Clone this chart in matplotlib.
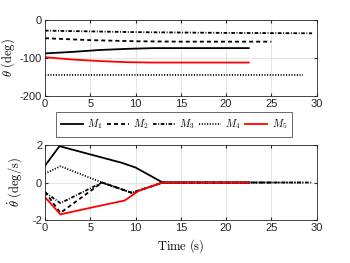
import matplotlib
matplotlib.use("Agg")
import matplotlib.pyplot as plt
from matplotlib.lines import Line2D

plt.rcParams['mathtext.fontset'] = 'cm'
plt.rcParams['axes.unicode_minus'] = False
plt.rcParams['font.family'] = ['Liberation Sans', 'DejaVu Sans']

labels = [r'$M_1$', r'$M_2$', r'$M_3$', r'$M_4$', r'$M_5$']
colors = ['black', 'black', 'black', 'black', 'red']
dash_patterns = [None, (2.2, 1.7), (2.0, 0.9, 0.5, 0.9), (0.6, 0.9), None]

# angle theta (deg)
t_ang = [
    [0, 3, 6, 9, 12, 15, 22.5],
    [0, 5, 10, 15, 25],
    [0, 10, 20, 29.5],
    [0, 10, 20, 28.5],
    [0, 3, 6, 9, 12, 15, 22.5],
]
ang = [
    [-88, -84, -79, -76, -74, -74, -74],
    [-48, -53, -56, -57, -57],
    [-28, -32, -34, -35],
    [-144, -144, -144, -144],
    [-98, -104, -108, -111, -112, -112, -112],
]

# angular rate (deg/s)
t_rate = [
    [0, 1.6, 5, 8.5, 10, 13, 22.5],
    [0, 1.7, 6.3, 9.6, 13, 25],
    [0, 1.7, 6.3, 9.6, 13, 29.5],
    [0, 1.7, 6.3, 9.6, 13, 28.5],
    [0, 1.7, 5, 8.8, 10.4, 13, 22.5],
]
rate = [
    [0.9, 1.94, 1.5, 1.05, 0.8, 0, 0],
    [-0.5, -1.62, 0, -0.55, 0, 0],
    [-0.52, -1.1, 0, -0.55, 0, 0],
    [0.48, 0.87, 0, -0.55, 0, 0],
    [-0.78, -1.7, -1.35, -0.96, -0.43, 0, 0],
]


def style_line(line, i):
    if dash_patterns[i] is not None:
        line.set_dashes(dash_patterns[i])
    return line


fig = plt.figure(figsize=(3.5, 2.63), dpi=100)
ax1 = fig.add_axes([0.1286, 0.635, 0.776, 0.289])
ax2 = fig.add_axes([0.1286, 0.1635, 0.776, 0.285])

order = [2, 1, 3, 0, 4]
for i in order:
    l1, = ax1.plot(t_ang[i], ang[i], color=colors[i], lw=1.3)
    style_line(l1, i)
    l2, = ax2.plot(t_rate[i], rate[i], color=colors[i], lw=1.3)
    style_line(l2, i)

for ax in (ax1, ax2):
    ax.set_xlim(0, 30)
    ax.set_xticks([0, 5, 10, 15, 20, 25, 30])
    ax.grid(True, color='#e0e0e0', lw=0.6)
    ax.set_axisbelow(True)
    ax.tick_params(direction='in', length=2.5, labelsize=8, colors='#262626',
                   top=True, right=True, pad=2)
    for s in ax.spines.values():
        s.set_color('#262626')
        s.set_linewidth(0.6)

ax1.set_ylim(-200, 0)
ax1.set_yticks([-200, -100, 0])
ax1.set_ylabel(r'$\theta\ \mathrm{(deg)}$', fontsize=9, labelpad=2)

ax2.set_ylim(-2, 2)
ax2.set_yticks([-2, 0, 2])
ax2.set_ylabel(r'$\dot{\theta}\ \mathrm{(deg/s)}$', fontsize=9, labelpad=6)
ax2.set_xlabel(r'$\mathrm{Time\ (s)}$', fontsize=9, labelpad=3)

handles = []
for i in range(5):
    h = Line2D([], [], color=colors[i], lw=1.3)
    style_line(h, i)
    handles.append(h)
leg = fig.legend(handles, labels, ncol=5, loc='center',
                 bbox_to_anchor=(174 / 350, 1 - 124.5 / 263),
                 fontsize=7.5, frameon=True, fancybox=False, handlelength=2.1,
                 handletextpad=0.4, columnspacing=0.45, borderpad=0.5,
                 borderaxespad=0)
leg.get_frame().set_edgecolor('#262626')
leg.get_frame().set_linewidth(0.6)

fig.savefig('out.png', dpi=100)
